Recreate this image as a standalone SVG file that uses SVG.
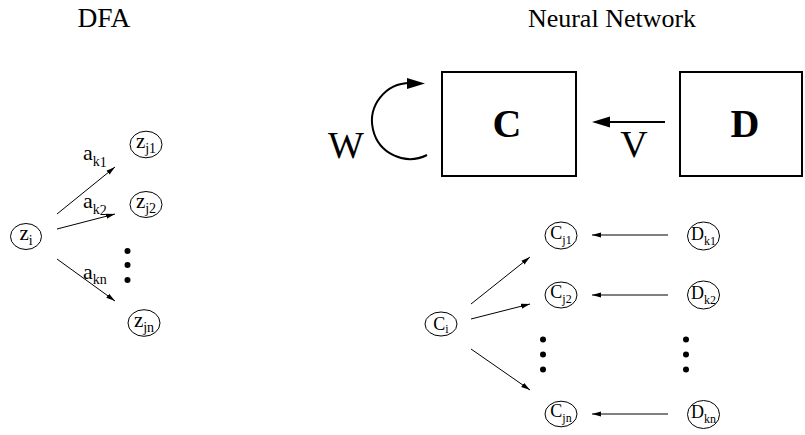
<svg xmlns="http://www.w3.org/2000/svg" width="805" height="435" viewBox="0 0 805 435">
<defs>
<style>
text{font-family:"Liberation Serif","Times New Roman",serif;fill:#000}
.title{font-size:26px}
.big{font-size:38px}
.bold{font-size:40px;font-weight:bold}
.n{font-size:21px}
.a{font-size:22px}
.s{font-size:14px}
.cn{font-size:18px}
.cs{font-size:12px}
.node{fill:#fff;stroke:#000;stroke-width:1}
.thin{stroke:#000;stroke-width:1;fill:none}
.thick{stroke:#000;stroke-width:2;fill:none}
</style>
<marker id="ah" markerUnits="userSpaceOnUse" markerWidth="10" markerHeight="6" refX="9" refY="3" orient="auto">
<path d="M0,0.5 L9,3 L0,5.5 Z" fill="#000"/>
</marker>
</defs>
<rect width="805" height="435" fill="#fff"/>
<text class="title" x="104" y="27" text-anchor="middle" style="font-size:27.5px">DFA</text>
<text class="title" x="612" y="27" text-anchor="middle">Neural Network</text>

<g id="connectors">
<line class="thin" x1="57" y1="214" x2="115" y2="167" marker-end="url(#ah)"/>
<line class="thin" x1="57" y1="229" x2="115" y2="214" marker-end="url(#ah)"/>
<line class="thin" x1="57" y1="259" x2="115" y2="301" marker-end="url(#ah)"/>
<line class="thin" x1="471" y1="304" x2="530" y2="257" marker-end="url(#ah)"/>
<line class="thin" x1="471" y1="319" x2="530" y2="304" marker-end="url(#ah)"/>
<line class="thin" x1="471" y1="349" x2="530" y2="390" marker-end="url(#ah)"/>
<line class="thin" x1="668" y1="235" x2="592" y2="235" marker-end="url(#ah)"/>
<line class="thin" x1="668" y1="295" x2="592" y2="295" marker-end="url(#ah)"/>
<line class="thin" x1="668" y1="414" x2="592" y2="414" marker-end="url(#ah)"/>
<path class="thick" d="M427,155 A38,38 0 1 1 410,83"/>
<path d="M425,83.5 L407,78 L407,89 Z" fill="#000"/>
<line class="thick" x1="665" y1="122" x2="608" y2="122"/>
<path d="M592,122 L610,116.5 L610,127.5 Z" fill="#000"/>
</g>

<g id="labels">
<text x="83" y="160"><tspan class="a">a</tspan><tspan class="s" dy="6">k</tspan><tspan class="s" font-size="10" dy="1">1</tspan></text>
<text x="83" y="208"><tspan class="a">a</tspan><tspan class="s" dy="6">k</tspan><tspan class="s" font-size="10" dy="1">2</tspan></text>
<text x="83" y="279"><tspan class="a">a</tspan><tspan class="s" dy="5">k</tspan><tspan class="s">n</tspan></text>
<text class="big" x="346" y="158" text-anchor="middle">W</text>
<text class="big" x="634" y="157" text-anchor="middle">V</text>
</g>

<g id="dfa-dots" fill="#000">
<circle cx="127.5" cy="251" r="3"/>
<circle cx="127.5" cy="265" r="3"/>
<circle cx="127.5" cy="280" r="3"/>
</g>
<g id="nn-dots" fill="#000">
<circle cx="543" cy="339.5" r="3"/>
<circle cx="543" cy="354.5" r="3"/>
<circle cx="543" cy="369.5" r="3"/>
<circle cx="686" cy="339.5" r="3"/>
<circle cx="686" cy="354.5" r="3"/>
<circle cx="686" cy="369.5" r="3"/>
</g>

<g id="box-C">
<rect x="442" y="72" width="134" height="104" fill="#fff" stroke="#000" stroke-width="2"/>
<text class="bold" x="507" y="137" text-anchor="middle">C</text>
</g>
<g id="box-D">
<rect x="680" y="72" width="122" height="104" fill="#fff" stroke="#000" stroke-width="2"/>
<text class="bold" x="745" y="137" text-anchor="middle">D</text>
</g>

<g id="z-i">
<ellipse class="node" cx="26" cy="236.5" rx="15.5" ry="13"/>
<text x="26" y="240" text-anchor="middle"><tspan class="n">z</tspan><tspan class="s" dy="5">i</tspan></text>
</g>
<g id="z-j1">
<ellipse class="node" cx="146" cy="144.5" rx="16" ry="13.3"/>
<text x="146" y="148" text-anchor="middle"><tspan class="n">z</tspan><tspan class="s" dy="5">j1</tspan></text>
</g>
<g id="z-j2">
<ellipse class="node" cx="146" cy="204.5" rx="16" ry="13"/>
<text x="146" y="208" text-anchor="middle"><tspan class="n">z</tspan><tspan class="s" dy="5">j2</tspan></text>
</g>
<g id="z-jn">
<ellipse class="node" cx="144" cy="323" rx="16" ry="13.3"/>
<text x="144" y="326.5" text-anchor="middle"><tspan class="n">z</tspan><tspan class="s" dy="5">jn</tspan></text>
</g>

<g id="C-i">
<ellipse class="node" cx="441" cy="324" rx="16" ry="12"/>
<text x="441" y="329.5" text-anchor="middle"><tspan class="cn">C</tspan><tspan class="cs" dy="3">i</tspan></text>
</g>
<g id="C-j1">
<ellipse class="node" cx="561" cy="235.5" rx="16" ry="13.5"/>
<text x="561" y="238.5" text-anchor="middle"><tspan class="cn">C</tspan><tspan class="cs" dy="5">j1</tspan></text>
</g>
<g id="C-j2">
<ellipse class="node" cx="561" cy="295" rx="16" ry="13"/>
<text x="561" y="298" text-anchor="middle"><tspan class="cn">C</tspan><tspan class="cs" dy="5">j2</tspan></text>
</g>
<g id="C-jn">
<ellipse class="node" cx="561" cy="414" rx="16" ry="12.8"/>
<text x="561" y="417" text-anchor="middle"><tspan class="cn">C</tspan><tspan class="cs" dy="5">jn</tspan></text>
</g>
<g id="D-k1">
<ellipse class="node" cx="703.5" cy="236" rx="16" ry="14"/>
<text x="703.5" y="239.5" text-anchor="middle"><tspan class="cn">D</tspan><tspan class="cs" dy="5">k1</tspan></text>
</g>
<g id="D-k2">
<ellipse class="node" cx="703.5" cy="295" rx="16" ry="14"/>
<text x="703.5" y="298.5" text-anchor="middle"><tspan class="cn">D</tspan><tspan class="cs" dy="5">k2</tspan></text>
</g>
<g id="D-kn">
<ellipse class="node" cx="703.5" cy="414.5" rx="16" ry="14"/>
<text x="703.5" y="418" text-anchor="middle"><tspan class="cn">D</tspan><tspan class="cs" dy="5">kn</tspan></text>
</g>
</svg>
